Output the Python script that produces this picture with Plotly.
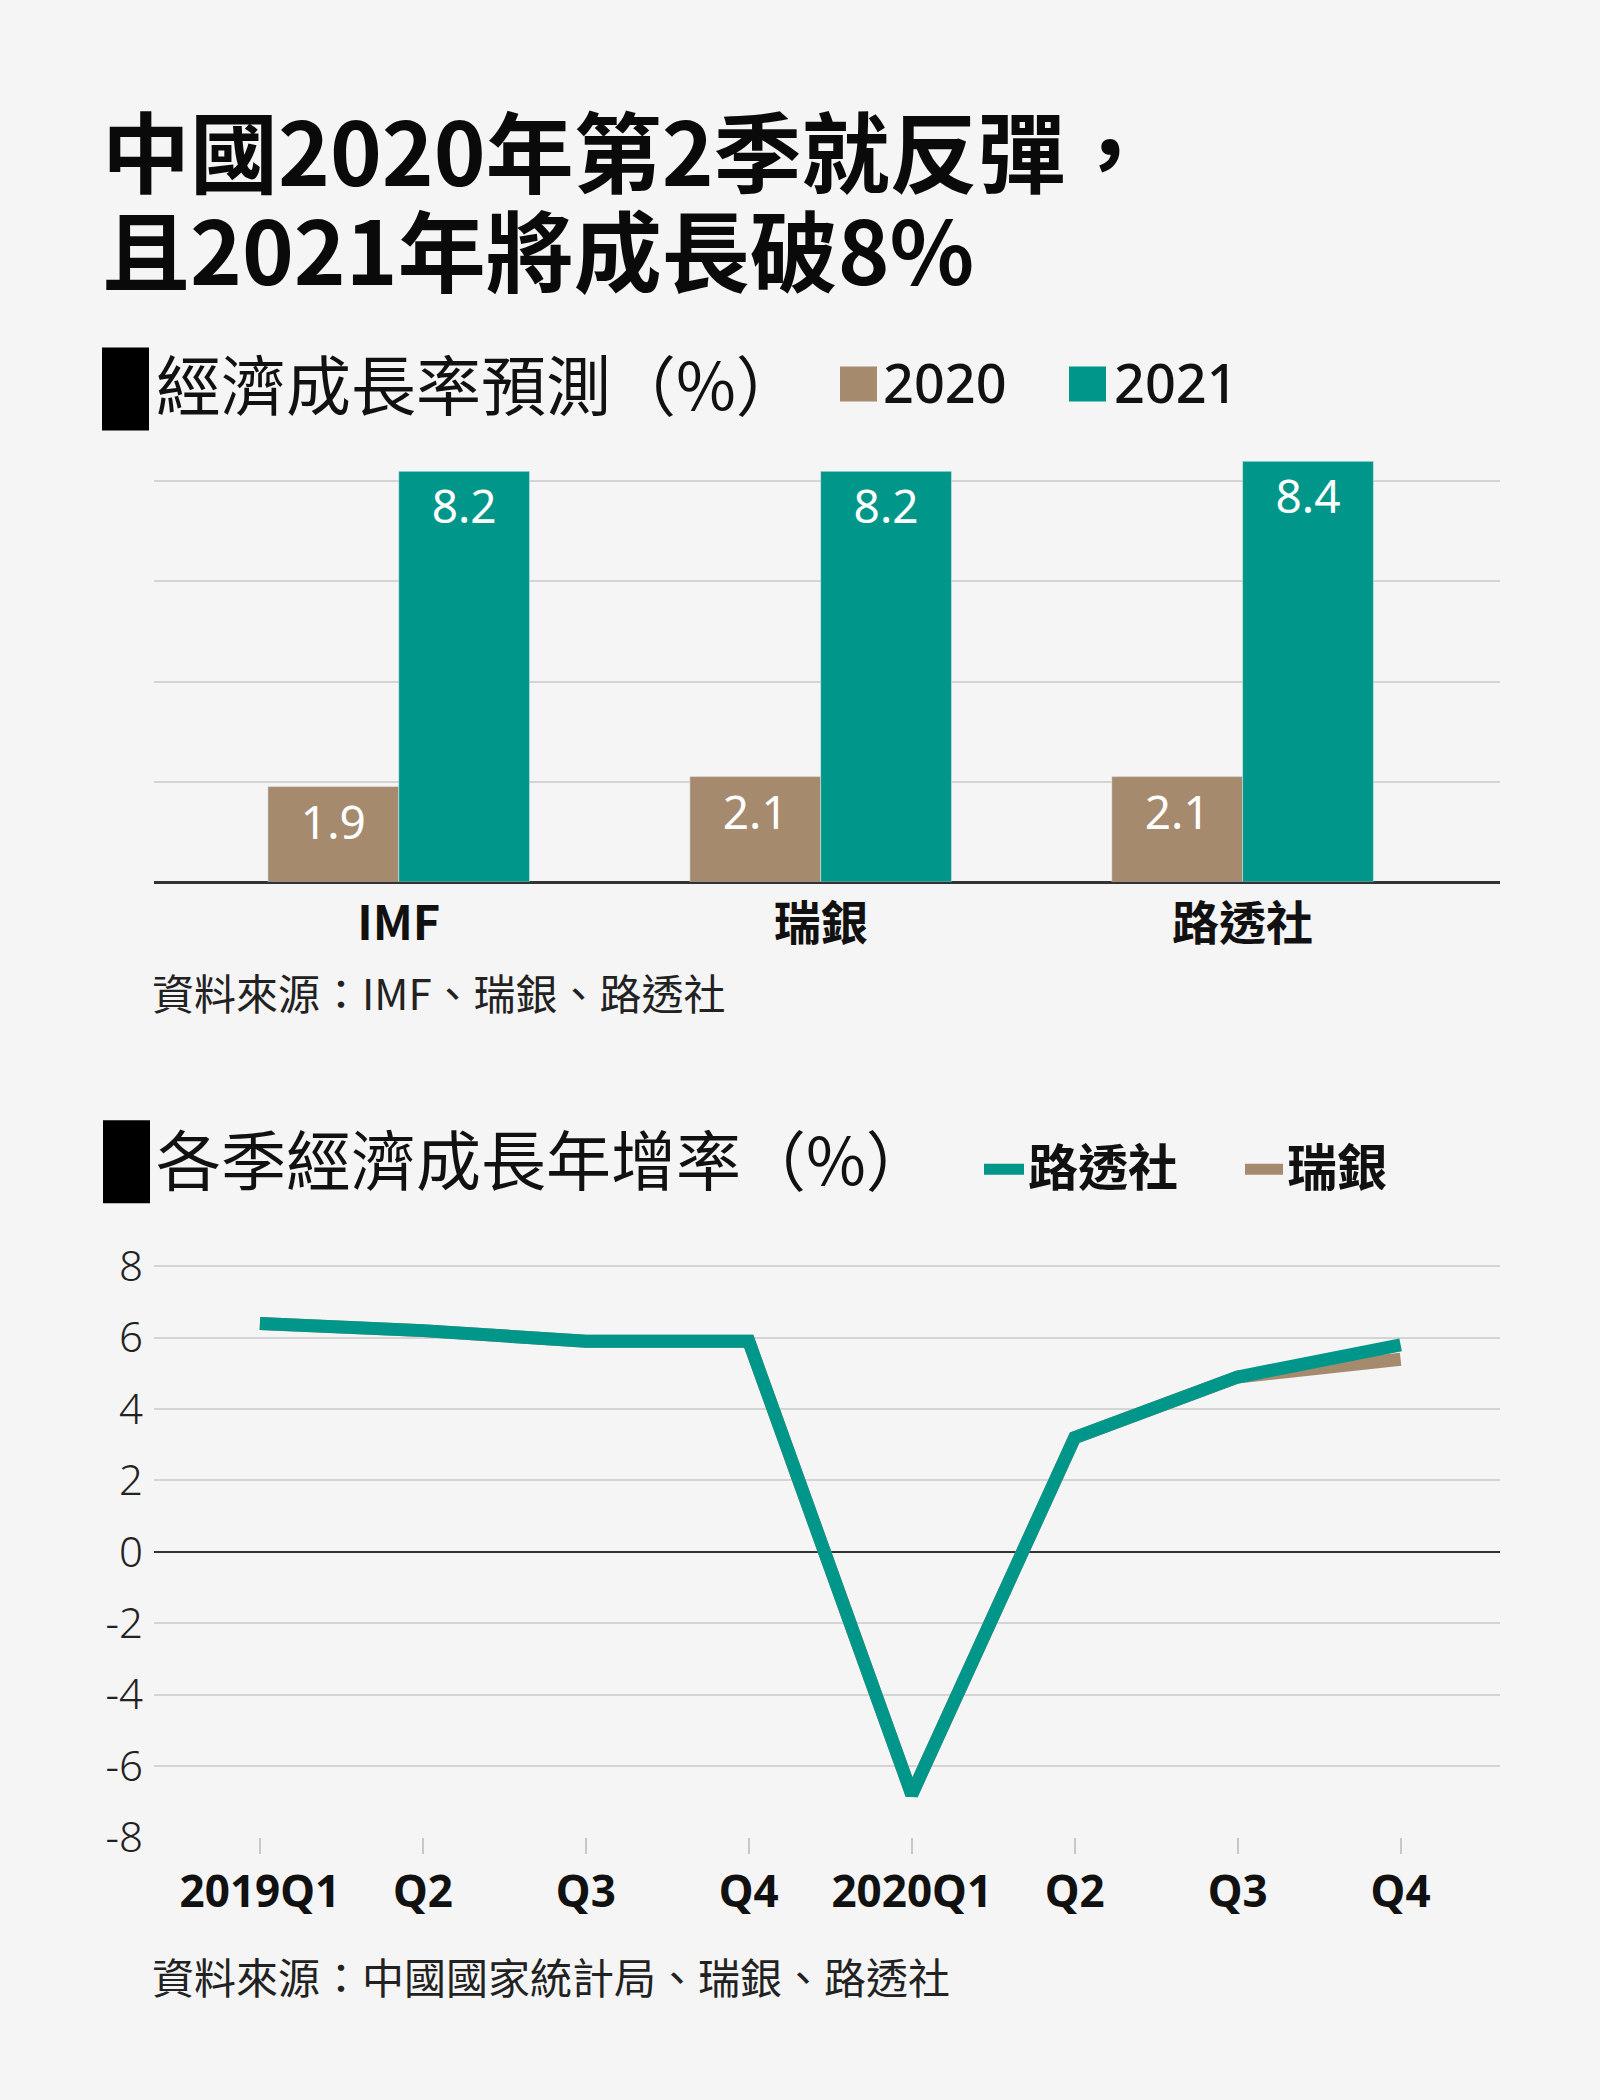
import plotly.graph_objects as go

# 經濟成長率預測（%）
sources = ["IMF", "瑞銀", "路透社"]
gdp_2020 = [1.9, 2.1, 2.1]
gdp_2021 = [8.2, 8.2, 8.4]

# 各季經濟成長年增率（%）
quarters = ["2019Q1", "Q2", "Q3", "Q4", "2020Q1", "Q2", "Q3", "Q4"]
reuters = [6.4, 6.2, 5.9, 5.9, -6.8, 3.2, 4.9, 5.8]
ubs = [6.4, 6.2, 5.9, 5.9, -6.8, 3.2, 4.9, 5.4]
yticks = [-8, -6, -4, -2, 0, 2, 4, 6, 8]
ytick_labels = ["-8", "-6", "-4", "-2", "0", "2", "4", "6", "8"]

BROWN = "#A68A6E"
TEAL = "#00968A"
BG = "#F5F5F5"
GRID = "#D4D4D4"
CJK = "Noto Sans CJK TC"
LAT = "Noto Sans, Noto Sans CJK TC"

W, H = 1600, 2100


def px(x):
    return x / W


def py(y):
    return 1 - y / H


def gy(y):
    # the photo comes out a bit squashed vertically, so place geometry
    # where it ends up at pixel y of the final picture
    return py((y - 13) / 0.981)


fig = go.Figure()

fig.add_trace(go.Bar(
    x=sources, y=gdp_2020, name="2020", marker_color=BROWN,
    text=[f"{v:.1f}" for v in gdp_2020], textposition="inside",
    insidetextanchor="end", textangle=0,
    textfont=dict(family=LAT, size=46, color="white"),
    xaxis="x", yaxis="y", showlegend=False, hoverinfo="skip",
))
fig.add_trace(go.Bar(
    x=sources, y=gdp_2021, name="2021", marker_color=TEAL,
    text=[f"{v:.1f}" for v in gdp_2021], textposition="inside",
    insidetextanchor="end", textangle=0,
    textfont=dict(family=LAT, size=46, color="white"),
    xaxis="x", yaxis="y", showlegend=False, hoverinfo="skip",
))

qx = list(range(len(quarters)))
fig.add_trace(go.Scatter(
    x=qx, y=ubs, mode="lines", name="瑞銀",
    line=dict(color=BROWN, width=13), xaxis="x2", yaxis="y2",
    showlegend=False,
))
fig.add_trace(go.Scatter(
    x=qx, y=reuters, mode="lines", name="路透社",
    line=dict(color=TEAL, width=13), xaxis="x2", yaxis="y2",
    showlegend=False,
))

fig.update_layout(
    width=W, height=H,
    margin=dict(l=0, r=0, t=0, b=0),
    paper_bgcolor=BG, plot_bgcolor=BG,
    barmode="group", bargap=0.38, bargroupgap=0,
    uniformtext=dict(mode="show", minsize=10),
    xaxis=dict(
        domain=[px(154), px(1500)], anchor="y",
        range=[-0.58, 2.61], showgrid=False,
        showline=True, linecolor="#333", linewidth=2,
        ticks="", ticklabelstandoff=0,
        tickfont=dict(family=CJK, size=47, color="#111", weight="bold"),
        fixedrange=True,
    ),
    yaxis=dict(
        domain=[gy(880), gy(454)], anchor="x",
        range=[0, 8.5], dtick=2, tick0=0,
        showticklabels=False, showgrid=True, gridcolor=GRID, gridwidth=2,
        zeroline=True, zerolinecolor="#333", zerolinewidth=2,
    ),
    xaxis2=dict(
        domain=[px(154), px(1500)], anchor="y2",
        range=[-0.65, 7.61],
        tickmode="array", tickvals=qx, ticktext=quarters,
        showgrid=False, showline=False, zeroline=False,
        ticks="outside", ticklen=16, tickwidth=2, tickcolor="#C8C8C8",
        ticklabelstandoff=0,
        tickfont=dict(family=LAT, size=44, color="#111", weight="bold"),
    ),
    yaxis2=dict(
        domain=[gy(1837), gy(1251)], anchor="x2",
        range=[-8, 8.4], tickmode="array", tickvals=yticks,
        ticktext=ytick_labels,
        showgrid=True, gridcolor=GRID, gridwidth=2,
        zeroline=True, zerolinecolor="#333", zerolinewidth=1.5,
        ticks="", ticklabelstandoff=10,
        tickfont=dict(family=LAT, size=42, color="#222", weight=300),
    ),
)

annotations = [
    dict(text="中國2020年第2季就反彈，", x=px(100), y=py(134)),
    dict(text="且2021年將成長破8%", x=px(100), y=py(235)),
]
for a in annotations:
    a.update(font=dict(family=CJK, size=88, color="#0A0A0A", weight="bold"))

texts = [
    dict(text="經濟成長率預測（%）", x=px(154), y=py(374),
         font=dict(family=CJK, size=65, color="#111")),
    dict(text="2020", x=px(881), y=py(374),
         font=dict(family=LAT, size=54, color="#111", weight=500)),
    dict(text="2021", x=px(1112), y=py(374),
         font=dict(family=LAT, size=54, color="#111", weight=500)),
    dict(text="資料來源：IMF、瑞銀、路透社", x=px(150), y=py(996),
         font=dict(family=CJK, size=42, color="#222")),
    dict(text="各季經濟成長年增率（%）", x=px(154), y=py(1165),
         font=dict(family=CJK, size=65, color="#111")),
    dict(text="路透社", x=px(1026), y=py(1172),
         font=dict(family=CJK, size=50, color="#111", weight="bold")),
    dict(text="瑞銀", x=px(1285), y=py(1172),
         font=dict(family=CJK, size=50, color="#111", weight="bold")),
    dict(text="資料來源：中國國家統計局、瑞銀、路透社", x=px(150), y=py(2000),
         font=dict(family=CJK, size=42, color="#222")),
]
annotations += texts
for a in annotations:
    a.update(xref="paper", yref="paper", xanchor="left", yanchor="middle",
             showarrow=False)
fig.update_layout(annotations=annotations)

# section markers and legend swatches
shapes = [
    dict(type="rect", x0=px(102), x1=px(149), y0=gy(428), y1=gy(345),
         fillcolor="black", line_width=0),
    dict(type="rect", x0=px(103), x1=px(150), y0=gy(1202), y1=gy(1119),
         fillcolor="black", line_width=0),
    dict(type="rect", x0=px(840), x1=px(877), y0=gy(399), y1=gy(364),
         fillcolor=BROWN, line_width=0),
    dict(type="rect", x0=px(1069), x1=px(1106), y0=gy(399), y1=gy(364),
         fillcolor=TEAL, line_width=0),
    dict(type="line", x0=px(984), x1=px(1024), y0=gy(1168), y1=gy(1168),
         line=dict(color=TEAL, width=11)),
    dict(type="line", x0=px(1245), x1=px(1283), y0=gy(1168), y1=gy(1168),
         line=dict(color=BROWN, width=11)),
]
for s in shapes:
    s.update(xref="paper", yref="paper")
fig.update_layout(shapes=shapes)

fig.write_html(
    "out.html",
    config={"displayModeBar": False},
    post_script="document.body.style.margin='0';"
                "document.body.style.background='#F5F5F5';",
)
